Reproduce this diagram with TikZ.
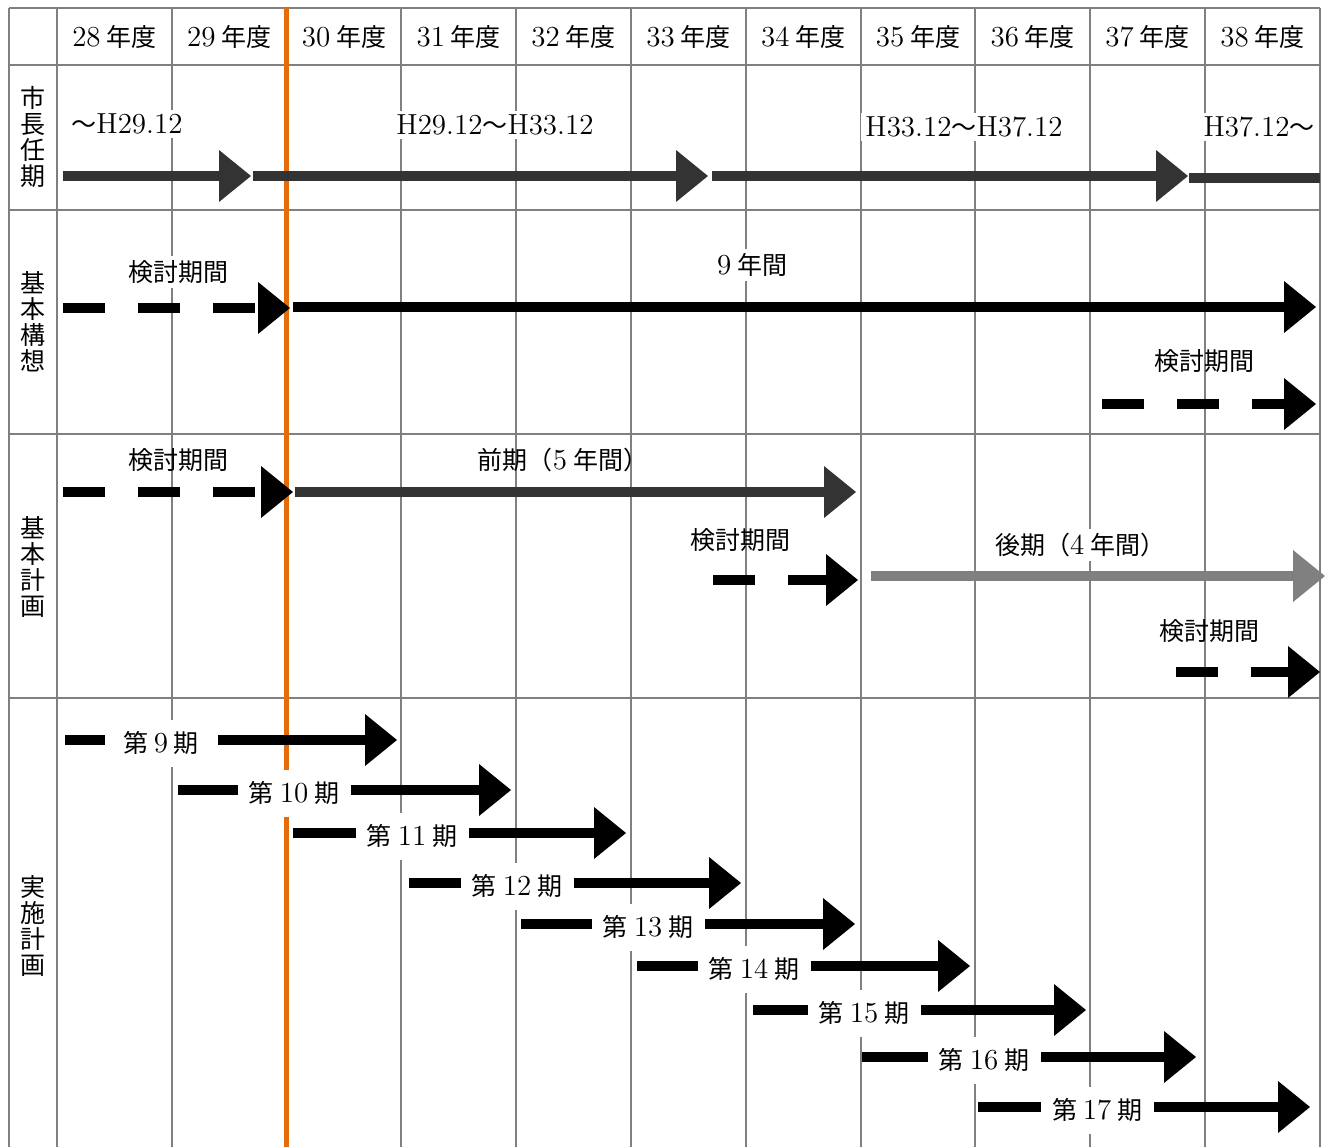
\documentclass[tikz,border=0pt]{standalone}
\usepackage{fontspec}
\newfontfamily\cjk{Noto Sans CJK JP}
\usetikzlibrary{arrows.meta}
\definecolor{gridgray}{HTML}{808080}
\definecolor{nowcolor}{HTML}{E46C0A}
\definecolor{termgray}{HTML}{333333}
\definecolor{lategray}{HTML}{808080}
\newcommand\J[1]{{\cjk\fontsize{12.5}{15}\selectfont #1}}
\newcommand\jsp{\hspace{0.2em}}

\begin{document}
\begin{tikzpicture}[x=0.5pt, y=-0.5pt,
  every node/.style = {font=\fontsize{14.5}{16}\selectfont, inner sep=2pt},
  gridline/.style = {draw=gridgray, line width=1pt},
  nowline/.style = {draw=nowcolor, line width=2.5pt},
  bar/.style = {line width=5.25pt, -{Triangle[width=26pt, length=16pt, line width=0pt]}},
  term/.style = {bar, draw=termgray},
  plan/.style = {bar, draw=black},
  late/.style = {bar, draw=lategray},
  review/.style = {plan, dash pattern=on 21pt off 16.5pt},
  rowhead/.style = {font=\cjk\fontsize{12.5}{13}\selectfont, align=center},
  tag/.style = {fill=white},
  phase/.style = {fill=white, minimum width=56.5pt, minimum height=23.5pt},
  ]
  \useasboundingbox (0,0) rectangle (1329,1147);

  \foreach \x in {9,57}
    \draw[gridline] (\x,8) -- (\x,1147);
  \foreach \i in {1,...,11}
    \draw[gridline] ({57+114.8*\i},8) -- ({57+114.8*\i},1147);
  \foreach \y in {8,65,210,434,698}
    \draw[gridline] (9,\y) -- (1320,\y);

  \foreach \yr [count=\i from 0] in {28,...,38}
    \node (y\yr) at ({57+114.8*(\i+0.5)},37) {\yr\jsp\J{年度}};

  \node[rowhead] (mayor)  at (33,137) {市\\長\\任\\期};
  \node[rowhead] (vision) at (33,322) {基\\本\\構\\想};
  \node[rowhead] (basic)  at (33,567) {基\\本\\計\\画};
  \node[rowhead] (action) at (33,926) {実\\施\\計\\画};

  \draw[nowline] (286.6,8) -- (286.6,1147);

  \coordinate (t1s) at (63,176);   \coordinate (t1e) at (251,176);
  \coordinate (t2s) at (253,176);  \coordinate (t2e) at (708,176);
  \coordinate (t3s) at (712,176);  \coordinate (t3e) at (1188,176);
  \coordinate (t4s) at (1189,178); \coordinate (t4e) at (1320,178);
  \draw[term] (t1s) -- (t1e);
  \draw[term] (t2s) -- (t2e);
  \draw[term] (t3s) -- (t3e);
  \draw[term, -] (t4s) -- (t4e);
  \node[tag] (t1) at (127,124) {\J{～}H29.12};
  \node[tag] (t2) at (495,125) {H29.12\J{～}H33.12};
  \node[tag] (t3) at (964,127) {H33.12\J{～}H37.12};
  \node[tag] (t4) at (1259,127) {H37.12\J{～}};

  \coordinate (v1s) at (63,308);   \coordinate (v1e) at (290,308);
  \coordinate (v2s) at (293,307);  \coordinate (v2e) at (1316,307);
  \coordinate (v3s) at (1102,404); \coordinate (v3e) at (1316,404);
  \draw[review] (v1s) -- (v1e);
  \draw[plan] (v2s) -- (v2e);
  \draw[review] (v3s) -- (v3e);
  \node[tag] (v1) at (178,272) {\J{検討期間}};
  \node[tag] (v2) at (752,265) {9\jsp\J{年間}};
  \node (v3) at (1204,361) {\J{検討期間}};

  \coordinate (b1s) at (63,492);   \coordinate (b1e) at (293,492);
  \coordinate (b2s) at (295,492);  \coordinate (b2e) at (856,492);
  \coordinate (b3s) at (713,580);  \coordinate (b3e) at (858,580);
  \coordinate (b4s) at (871,576);  \coordinate (b4e) at (1325,576);
  \coordinate (b5s) at (1176,672); \coordinate (b5e) at (1320,672);
  \draw[review] (b1s) -- (b1e);
  \draw[term] (b2s) -- (b2e);
  \draw[review] (b3s) -- (b3e);
  \draw[late] (b4s) -- (b4e);
  \draw[review] (b5s) -- (b5e);
  \node (b1) at (178,460) {\J{検討期間}};
  \node (b2) at (563,460) {\J{前期（}5\jsp\J{年間）}};
  \node (b3) at (740,540) {\J{検討期間}};
  \node[tag] (b4) at (1080,545) {\J{後期（}4\jsp\J{年間）}};
  \node (b5) at (1209,631) {\J{検討期間}};

  \foreach \n/\s/\e/\y/\c in {9/65/397/740/161, 10/178/511/790/294,
      11/293/626/833/412, 12/409/741/883/517, 13/521/855/924/648,
      14/637/970/966/754, 15/753/1086/1010/864, 16/862/1196/1057/984,
      17/978/1310/1107/1097}{
    \coordinate (s\n) at (\s,\y);
    \coordinate (e\n) at (\e,\y);
    \draw[plan] (s\n) -- (e\n);
    \node[phase] (p\n) at (\c,\y+3) {\J{第}\jsp\n\jsp\J{期}};
  }
\end{tikzpicture}
\end{document}
